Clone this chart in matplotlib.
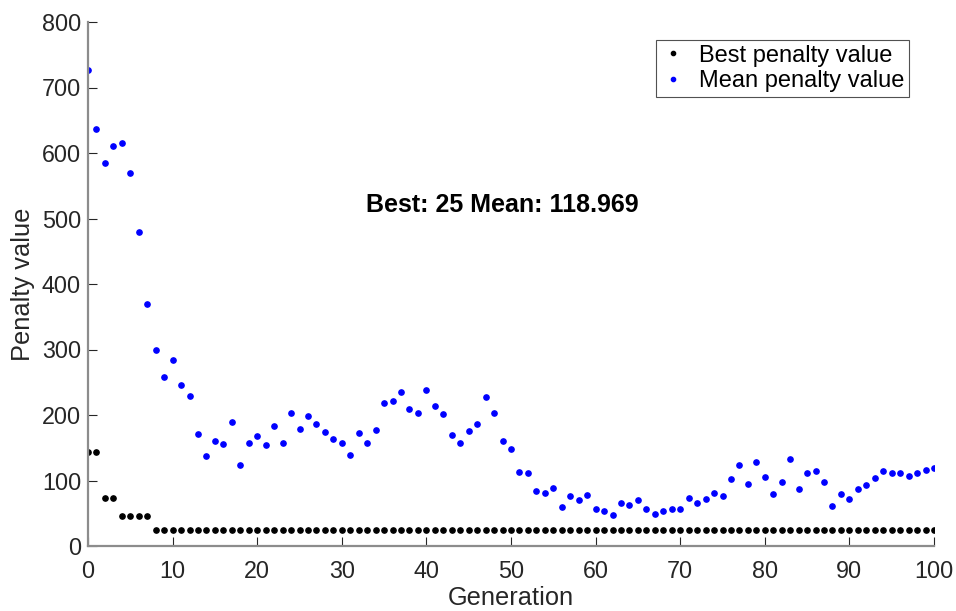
import matplotlib
matplotlib.use("Agg")
import matplotlib.pyplot as plt
import numpy as np

plt.rcParams['font.family'] = ['Liberation Sans', 'DejaVu Sans']

generations = list(range(0, 101))

best_penalty = [144, 144, 74, 74, 46, 46, 46, 46] + [25] * 93

mean_penalty = [
    727, 636, 585, 611, 616, 570, 480, 369, 299, 258,
    284, 246, 229, 171, 138, 161, 155, 189, 124, 158,
    168, 154, 183, 158, 203, 179, 198, 186, 174, 164,
    158, 139, 173, 158, 177, 218, 222, 235, 209, 203,
    238, 214, 201, 169, 158, 175, 187, 227, 203, 160,
    148, 113, 111, 84, 81, 88, 59, 77, 70, 78,
    57, 53, 48, 65, 62, 70, 56, 49, 54, 56,
    57, 73, 66, 72, 81, 77, 103, 123, 94, 129,
    106, 80, 98, 133, 87, 111, 115, 97, 61, 80,
    71, 87, 93, 104, 114, 111, 111, 107, 111, 116,
    118.969,
]

x_ticks = list(range(0, 101, 10))
y_ticks = list(range(0, 801, 100))

fig = plt.figure(figsize=(9.56, 6.11), dpi=100)
ax = fig.add_axes([88 / 956, 65 / 611, 846 / 956, 524 / 611])

ax.plot(generations, best_penalty, linestyle='none', marker='o', markersize=3.8,
        color='black', label='Best penalty value')
ax.plot(generations, mean_penalty, linestyle='none', marker='o', markersize=3.8,
        color='#0000ff', label='Mean penalty value')

ax.set_xlim(0, 100)
ax.set_ylim(0, 800)
ax.set_xticks(x_ticks)
ax.set_yticks(y_ticks)

axis_grey = '#262626'
for side in ('top', 'right'):
    ax.spines[side].set_visible(False)
for side in ('left', 'bottom'):
    ax.spines[side].set_color('#8c8c8c')
    ax.spines[side].set_linewidth(1.6)

ax.tick_params(direction='in', length=6.5, width=0.8, color=axis_grey,
               labelsize=16.8, labelcolor=axis_grey)
ax.tick_params(axis='x', pad=10)
ax.tick_params(axis='y', pad=5)

ax.set_xlabel('Generation', fontsize=18.3, color=axis_grey, labelpad=2)
ax.set_ylabel('Penalty value', fontsize=18.3, color=axis_grey, labelpad=5)

ax.text(0.49, 0.651, 'Best: 25 Mean: 118.969', transform=ax.transAxes,
        ha='center', va='center', fontsize=18, fontweight='bold', color='black')

leg = ax.legend(loc='upper right', bbox_to_anchor=(0.97, 0.966), fontsize=17,
                frameon=True, fancybox=False, edgecolor='#262626',
                handlelength=1.0, handletextpad=0.6, borderpad=0.2,
                labelspacing=0.15, markerscale=0.8, borderaxespad=0)
leg.get_frame().set_linewidth(0.8)

fig.savefig('out.png', dpi=100)
